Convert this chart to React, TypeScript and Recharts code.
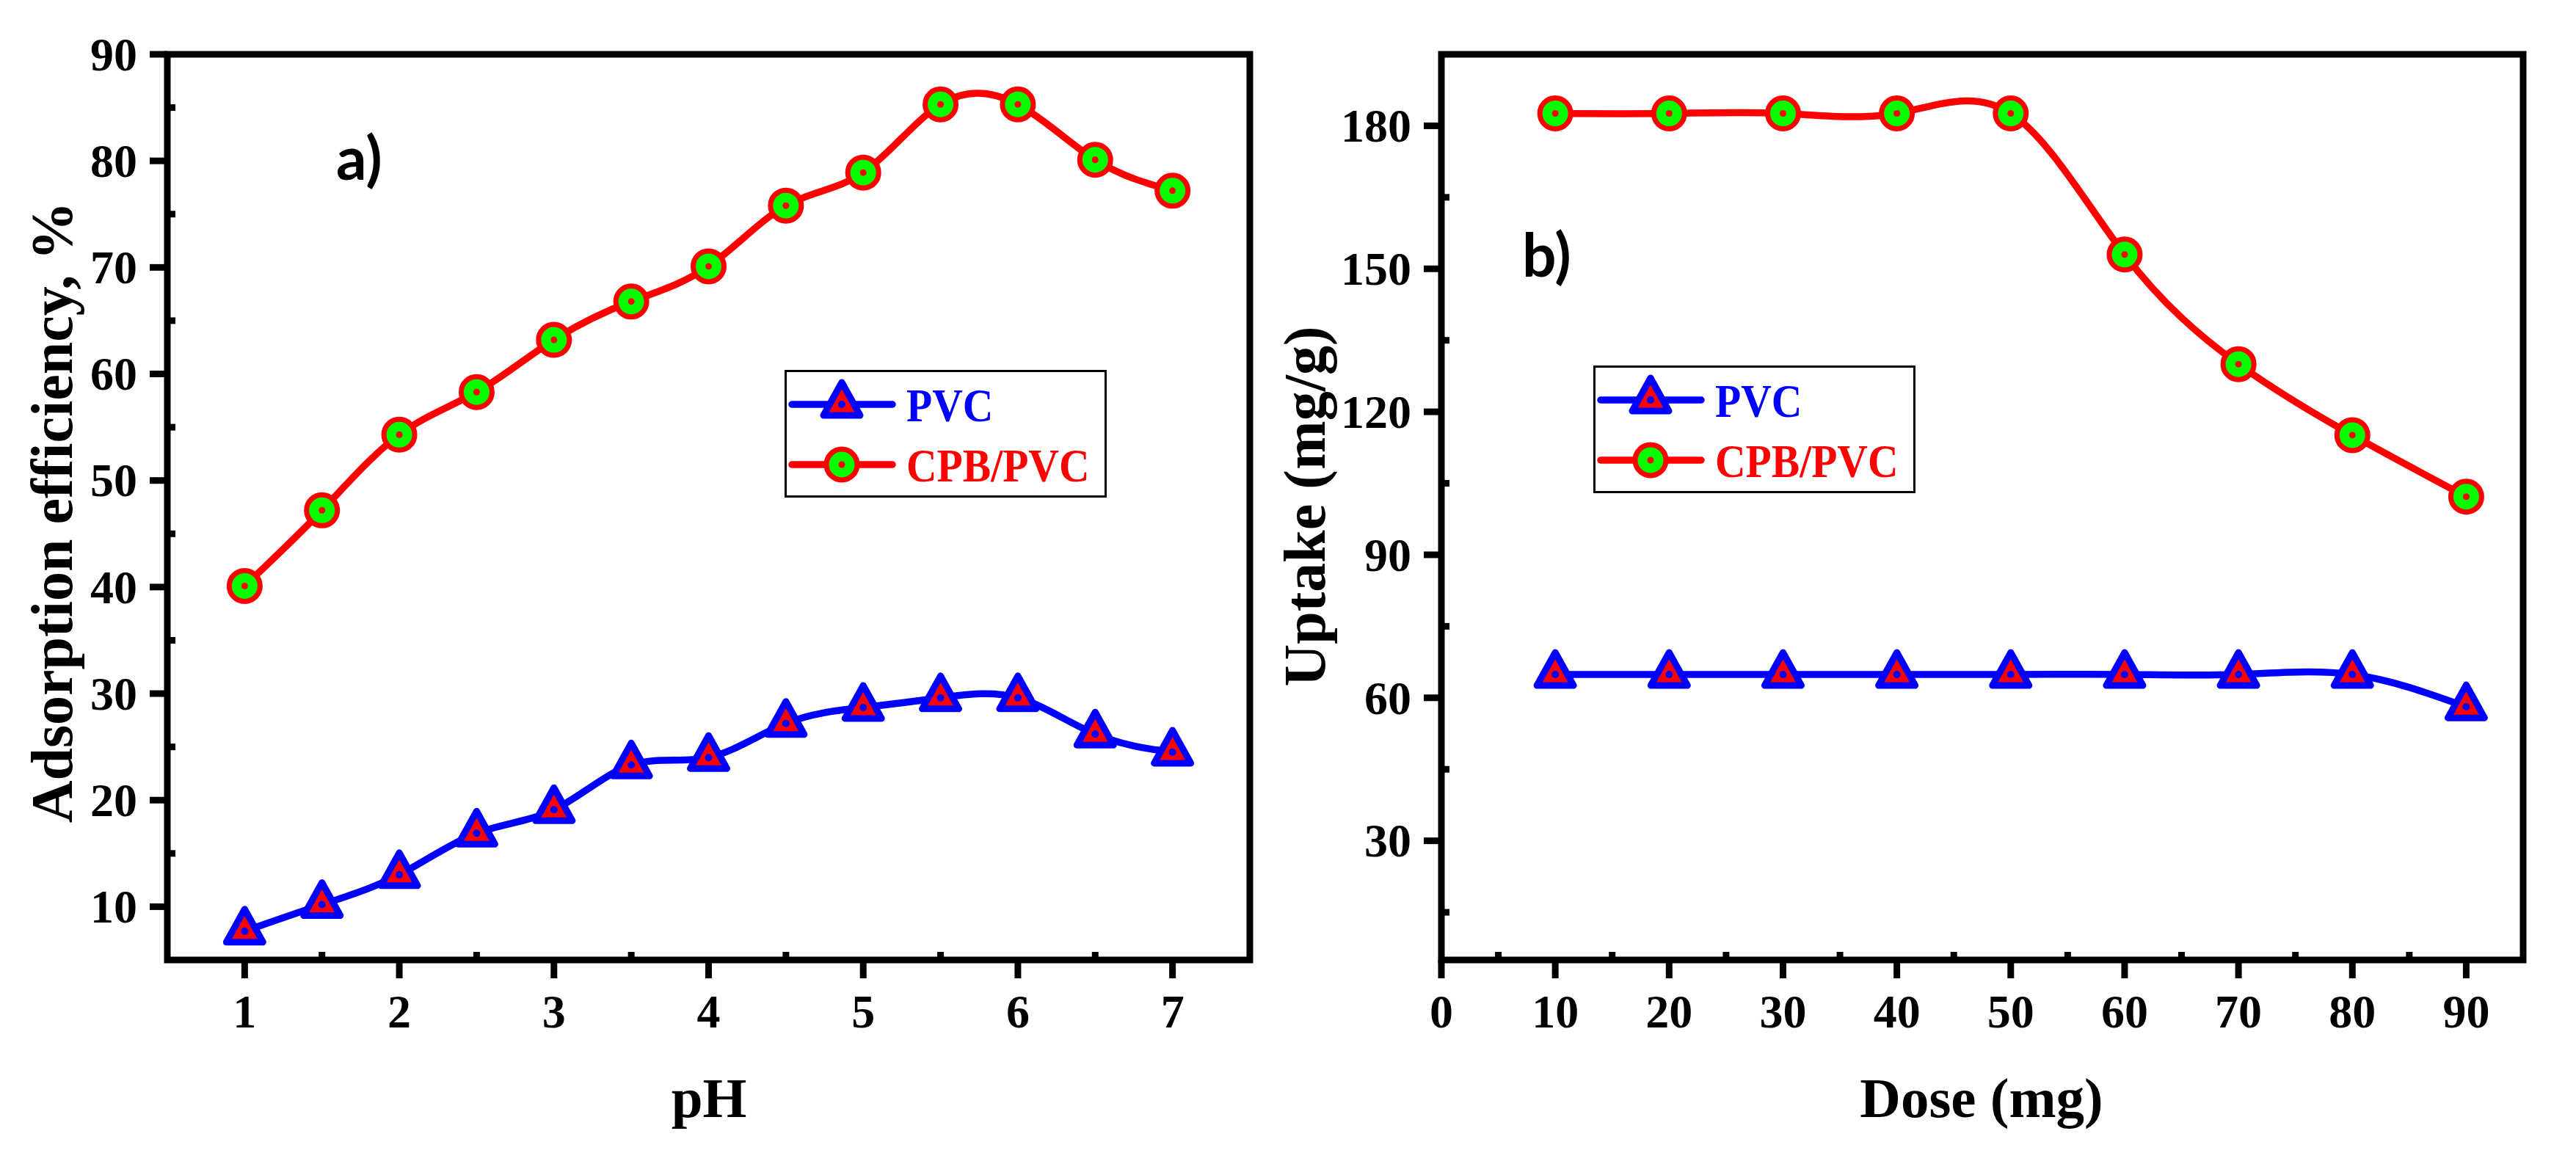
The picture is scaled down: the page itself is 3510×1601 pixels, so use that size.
import React from "react";
import { LineChart, Line, XAxis, YAxis, ReferenceArea, Legend, Label } from "recharts";

// panel a) adsorption efficiency vs pH
const phLevels = [1, 1.5, 2, 2.5, 3, 3.5, 4, 4.5, 5, 5.5, 6, 6.5, 7];
const pvcEfficiency = [7.7, 10.2, 13.0, 16.9, 19.1, 23.3, 24.0, 27.2, 28.7, 29.6, 29.6, 26.2, 24.5];
const cpbEfficiency = [40.1, 47.2, 54.3, 58.3, 63.2, 66.8, 70.1, 75.8, 78.9, 85.3, 85.3, 80.1, 77.2];
const phTicks = [1, 1.5, 2, 2.5, 3, 3.5, 4, 4.5, 5, 5.5, 6, 6.5, 7];
const effTicks = [10, 15, 20, 25, 30, 35, 40, 45, 50, 55, 60, 65, 70, 75, 80, 85, 90];

// panel b) uptake vs dose
const doses = [10, 20, 30, 40, 50, 60, 70, 80, 90];
const pvcUptake = [64.9, 64.9, 64.9, 64.9, 64.9, 64.9, 64.9, 64.9, 58.1];
const cpbUptake = [182.6, 182.6, 182.6, 182.6, 182.6, 153.0, 130.0, 115.1, 102.2];
const doseTicks = [0, 5, 10, 15, 20, 25, 30, 35, 40, 45, 50, 55, 60, 65, 70, 75, 80, 85, 90];
const uptakeTicks = [15, 30, 45, 60, 75, 90, 105, 120, 135, 150, 165, 180];

const seriesNames = { pvc: "PVC", cpb: "CPB/PVC" };

const phData = phLevels.map((x, i) => ({ x, pvc: pvcEfficiency[i], cpb: cpbEfficiency[i] }));
const doseData = doses.map((x, i) => ({ x, pvc: pvcUptake[i], cpb: cpbUptake[i] }));

const RED = "#ff0000";
const BLUE = "#0000ff";
const GREEN = "#00ff00";
const SERIF = "'Liberation Serif', 'Times New Roman', serif";

function TriangleMark({ cx, cy }: { cx?: number; cy?: number }) {
  if (cx == null || cy == null) return null;
  return (
    <g>
      <path
        d={`M${cx},${cy - 30}L${cx + 25},${cy + 15}L${cx - 25},${cy + 15}Z`}
        fill={RED}
        stroke={BLUE}
        strokeWidth={9}
        strokeLinejoin="round"
      />
      <circle cx={cx} cy={cy} r={5} fill={BLUE} />
    </g>
  );
}

function CircleMark({ cx, cy }: { cx?: number; cy?: number }) {
  if (cx == null || cy == null) return null;
  return (
    <g>
      <circle cx={cx} cy={cy} r={21} fill={GREEN} stroke={RED} strokeWidth={7} />
      <circle cx={cx} cy={cy} r={4.5} fill={RED} />
    </g>
  );
}

const tickText = { fontFamily: SERIF, fontWeight: "bold" as const, fontSize: 64, fill: "#000" };

// major ticks point out and carry a label, minor ticks point in
function bottomTick(isMajor: (v: number) => boolean) {
  return (props: any) => {
    const { x, y, payload, index } = props;
    const major = isMajor(payload.value);
    return (
      <g key={`xt-${index}`}>
        <line x1={x} x2={x} y1={y} y2={major ? y + 25 : y - 11} stroke="#000" strokeWidth={9} />
        {major && (
          <text x={x} y={y + 92} textAnchor="middle" {...tickText}>
            {payload.value}
          </text>
        )}
      </g>
    );
  };
}

function leftTick(isMajor: (v: number) => boolean) {
  return (props: any) => {
    const { x, y, payload, index } = props;
    const major = isMajor(payload.value);
    return (
      <g key={`yt-${index}`}>
        <line x1={x} x2={major ? x - 24 : x + 11} y1={y} y2={y} stroke="#000" strokeWidth={9} />
        {major && (
          <text x={x - 41} y={y} dy="0.34em" textAnchor="end" {...tickText}>
            {payload.value}
          </text>
        )}
      </g>
    );
  };
}

function LegendBox(props: any) {
  const order = ["pvc", "cpb"];
  const items = [...(props.payload || [])].sort(
    (a: any, b: any) => order.indexOf(a.dataKey) - order.indexOf(b.dataKey)
  );
  return (
    <svg width={439} height={174} style={{ display: "block" }}>
      <rect x={1.5} y={1.5} width={436} height={171} fill="#fff" stroke="#000" strokeWidth={3} />
      {items.map((entry: any, i: number) => {
        const y = 47 + i * 82;
        return (
          <g key={entry.dataKey}>
            <line x1={10} x2={147} y1={y} y2={y} stroke={entry.color} strokeWidth={9.5} strokeLinecap="round" />
            {entry.dataKey === "pvc" ? <TriangleMark cx={78} cy={y} /> : <CircleMark cx={78} cy={y} />}
            <text
              transform={`translate(166,${y + 23}) scale(0.9,1)`}
              fontFamily={SERIF}
              fontWeight="bold"
              fontSize={64}
              fill={entry.color}
            >
              {entry.value}
            </text>
          </g>
        );
      })}
    </svg>
  );
}

const titleText = { fontFamily: SERIF, fontWeight: "bold" as const, fill: "#000" };
const panelText = { fontFamily: "Lato, 'Open Sans', sans-serif", fontWeight: "bold" as const, fontSize: 82, fill: "#000" };

type PanelProps = {
  width: number;
  data: { x: number; pvc: number; cpb: number }[];
  xDomain: [number, number];
  yDomain: [number, number];
  xTicks: number[];
  yTicks: number[];
  xMajor: (v: number) => boolean;
  yMajor: (v: number) => boolean;
  margin: { top: number; right: number; bottom: number; left: number };
  xTitle: string;
  xTitleX: number;
  yTitle: string;
  yTitleX: number;
  yTitleY: number;
  tag: string;
  tagX: number;
  tagY: number;
  legendLeft: number;
  legendTop: number;
};

function Panel(p: PanelProps) {
  return (
    <LineChart width={p.width} height={1601} data={p.data} margin={p.margin}>
      <XAxis
        dataKey="x"
        type="number"
        domain={p.xDomain}
        ticks={p.xTicks}
        interval={0}
        height={200}
        axisLine={false}
        tickLine={false}
        tickSize={0}
        tickMargin={0}
        tick={bottomTick(p.xMajor)}
      >
        <Label
          content={() => (
            <text x={p.xTitleX} y={1522} textAnchor="middle" fontSize={77} {...titleText}>
              {p.xTitle}
            </text>
          )}
        />
        <Label
          content={() => (
            <text x={p.tagX} y={p.tagY} {...panelText}>
              {p.tag}
            </text>
          )}
        />
      </XAxis>
      <YAxis
        type="number"
        domain={p.yDomain}
        ticks={p.yTicks}
        interval={0}
        width={200}
        axisLine={false}
        tickLine={false}
        tickSize={0}
        tickMargin={0}
        tick={leftTick(p.yMajor)}
      >
        <Label
          content={() => (
            <text
              transform={`translate(${p.yTitleX},${p.yTitleY}) rotate(-90)`}
              textAnchor="middle"
              fontSize={80}
              {...titleText}
            >
              {p.yTitle}
            </text>
          )}
        />
      </YAxis>
      <ReferenceArea
        x1={p.xDomain[0]}
        x2={p.xDomain[1]}
        y1={p.yDomain[0]}
        y2={p.yDomain[1]}
        fill="none"
        stroke="#000"
        strokeWidth={9}
        ifOverflow="visible"
      />
      <Legend
        layout="vertical"
        verticalAlign="middle"
        align="center"
        content={LegendBox}
        wrapperStyle={{ left: p.legendLeft, top: p.legendTop, width: 439, height: 174 }}
      />
      <Line
        type="natural"
        dataKey="pvc"
        name={seriesNames.pvc}
        stroke={BLUE}
        strokeWidth={9.5}
        dot={(d: any) => <TriangleMark key={`pvc-${d.index}`} cx={d.cx} cy={d.cy} />}
        activeDot={false}
        isAnimationActive={false}
      />
      <Line
        type="natural"
        dataKey="cpb"
        name={seriesNames.cpb}
        stroke={RED}
        strokeWidth={9.5}
        dot={(d: any) => <CircleMark key={`cpb-${d.index}`} cx={d.cx} cy={d.cy} />}
        activeDot={false}
        isAnimationActive={false}
      />
    </LineChart>
  );
}

export default function App() {
  return (
    <div style={{ position: "absolute", left: 0, top: 0, width: 3510, height: 1601, background: "#fff" }}>
      <div style={{ position: "absolute", left: 0, top: 0 }}>
        <Panel
          width={1755}
          data={phData}
          xDomain={[0.5, 7.5]}
          yDomain={[5, 90]}
          xTicks={phTicks}
          yTicks={effTicks}
          xMajor={(v) => Number.isInteger(v)}
          yMajor={(v) => v % 10 === 0}
          margin={{ top: 74, right: 52, bottom: 93, left: 28 }}
          xTitle="pH"
          xTitleX={966}
          yTitle="Adsorption efficiency, %"
          yTitleX={98}
          yTitleY={698}
          tag="a)"
          tagX={458}
          tagY={245}
          legendLeft={1069}
          legendTop={504}
        />
      </div>
      <div style={{ position: "absolute", left: 1715, top: 0 }}>
        <Panel
          width={1795}
          data={doseData}
          xDomain={[0, 95]}
          yDomain={[5, 195]}
          xTicks={doseTicks}
          yTicks={uptakeTicks}
          xMajor={(v) => v % 10 === 0}
          yMajor={(v) => v % 30 === 0}
          margin={{ top: 74, right: 72, bottom: 93, left: 49 }}
          xTitle="Dose (mg)"
          xTitleX={985}
          yTitle="Uptake (mg/g)"
          yTitleX={90}
          yTitleY={690}
          tag="b)"
          tagX={359}
          tagY={377}
          legendLeft={456}
          legendTop={498}
        />
      </div>
    </div>
  );
}
